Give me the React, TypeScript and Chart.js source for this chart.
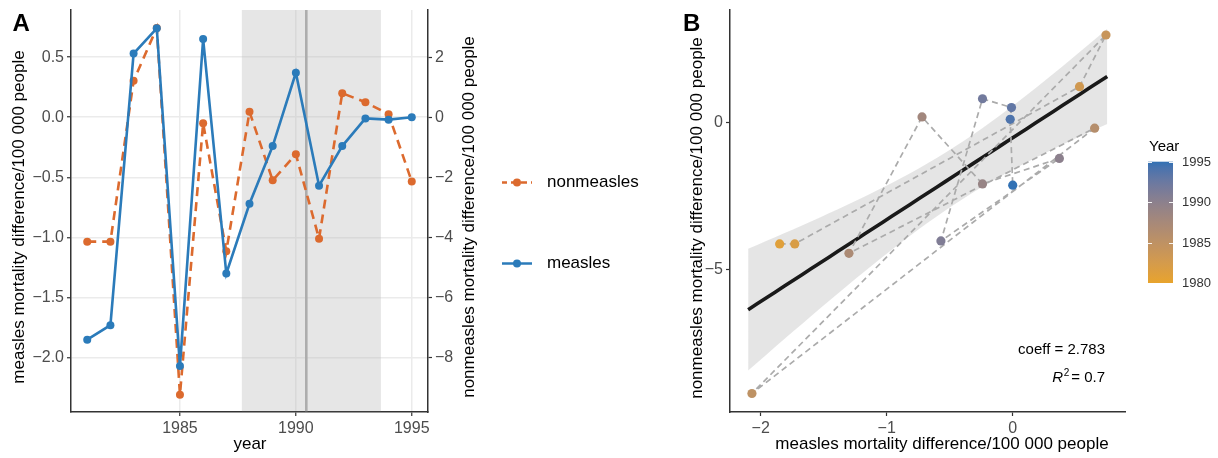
import React, { useEffect, useRef } from "react";
import { Chart, registerables } from "chart.js";

Chart.register(...registerables);

const FONT = "'Liberation Sans', Arial, Helvetica, sans-serif";

// ---------------- data ----------------
const years = [1981, 1982, 1983, 1984, 1985, 1986, 1987, 1988, 1989, 1990, 1991, 1992, 1993, 1994, 1995];
const measles = [-1.85, -1.73, 0.53, 0.74, -2.07, 0.65, -1.3, -0.72, -0.24, 0.37, -0.57, -0.24, -0.01, -0.02, 0.0];
const nonmeasles = [-4.14, -4.14, 1.21, 2.97, -9.23, -0.2, -4.46, 0.18, -2.1, -1.23, -4.04, 0.8, 0.5, 0.1, -2.14];

const yearTicks = [1985, 1990, 1995];
const measlesTicks = [-2, -1.5, -1, -0.5, 0, 0.5];
const nonmeaslesTicks = [-8, -6, -4, -2, 0, 2];
const scatterXTicks = [-2, -1, 0];
const scatterYTicks = [-5, 0];
const colorbarTicks = [1980, 1985, 1990, 1995];
const colorbarLimits = [1980, 1995];

const shadeStart = 1987.67;
const shadeEnd = 1993.67;
const eventYear = 1990.45;
const fitRange = [-2.1, 0.75];
const coeffText = "coeff = 2.783";
const r2Value = "= 0.7";
const seriesNames = ["nonmeasles", "measles"];

// ---------------- styling ----------------
const BLUE = "#2B7BBA";
const ORANGE = "#DC6A2E";
const YEAR_LOW = "#E8A42C";
const YEAR_HIGH = "#3171B4";
const TICK_COLOR = "#4D4D4D";
const AXIS_COLOR = "#333333";
const GRID_COLOR = "#EBEBEB";

const minus = (s: string) => s.replace("-", "\u2212");

// ---- Lab colour interpolation (like ggplot's gradient) ----
function hexToRgb(h: string) {
  const n = parseInt(h.slice(1), 16);
  return [(n >> 16) & 255, (n >> 8) & 255, n & 255];
}
function toLin(c: number) {
  c /= 255;
  return c <= 0.04045 ? c / 12.92 : Math.pow((c + 0.055) / 1.055, 2.4);
}
function fromLin(c: number) {
  const v = c <= 0.0031308 ? 12.92 * c : 1.055 * Math.pow(c, 1 / 2.4) - 0.055;
  return Math.round(Math.max(0, Math.min(1, v)) * 255);
}
function rgbToLab(rgb: number[]) {
  const [r, g, b] = rgb.map(toLin);
  const X = (0.4124 * r + 0.3576 * g + 0.1805 * b) / 0.95047;
  const Y = 0.2126 * r + 0.7152 * g + 0.0722 * b;
  const Z = (0.0193 * r + 0.1192 * g + 0.9505 * b) / 1.08883;
  const f = (t: number) => (t > 0.008856 ? Math.cbrt(t) : 7.787 * t + 16 / 116);
  return [116 * f(Y) - 16, 500 * (f(X) - f(Y)), 200 * (f(Y) - f(Z))];
}
function labToRgb(lab: number[]) {
  const [L, a, b] = lab;
  const fy = (L + 16) / 116;
  const fx = fy + a / 500;
  const fz = fy - b / 200;
  const inv = (t: number) => (t * t * t > 0.008856 ? t * t * t : (t - 16 / 116) / 7.787);
  const X = inv(fx) * 0.95047;
  const Y = inv(fy);
  const Z = inv(fz) * 1.08883;
  const r = 3.2406 * X - 1.5372 * Y - 0.4986 * Z;
  const g = -0.9689 * X + 1.8758 * Y + 0.0415 * Z;
  const bb = 0.0557 * X - 0.204 * Y + 1.057 * Z;
  return [fromLin(r), fromLin(g), fromLin(bb)];
}
const LAB_LOW = rgbToLab(hexToRgb(YEAR_LOW));
const LAB_HIGH = rgbToLab(hexToRgb(YEAR_HIGH));
function yearColor(year: number) {
  const t = (year - colorbarLimits[0]) / (colorbarLimits[1] - colorbarLimits[0]);
  const lab = LAB_LOW.map((v, i) => v + (LAB_HIGH[i] - v) * t);
  const [r, g, b] = labToRgb(lab);
  return `rgb(${r},${g},${b})`;
}

// ---- ordinary least squares fit with 95% confidence band ----
const T_975_DF13 = 2.1604;
function olsFit(xs: number[], ys: number[]) {
  const n = xs.length;
  const mx = xs.reduce((s, v) => s + v, 0) / n;
  const my = ys.reduce((s, v) => s + v, 0) / n;
  let sxx = 0;
  let sxy = 0;
  for (let i = 0; i < n; i++) {
    sxx += (xs[i] - mx) ** 2;
    sxy += (xs[i] - mx) * (ys[i] - my);
  }
  const slope = sxy / sxx;
  const intercept = my - slope * mx;
  let sse = 0;
  for (let i = 0; i < n; i++) sse += (ys[i] - intercept - slope * xs[i]) ** 2;
  const s = Math.sqrt(sse / (n - 2));
  return { slope, intercept, s, mx, sxx, n };
}

function axis(ticks: number[], fmt: (v: number) => string, extra: any) {
  const { fit, ...rest } = extra;
  return {
    type: "linear",
    afterBuildTicks: (sc: any) => {
      sc.ticks = ticks.map((v) => ({ value: v }));
    },
    afterFit: fit,
    ticks: {
      font: { family: FONT, size: 16 },
      color: TICK_COLOR,
      padding: 3,
      autoSkip: false,
      maxRotation: 0,
      callback: (v: any) => fmt(Number(v)),
    },
    grid: { color: GRID_COLOR, lineWidth: 1.5, tickLength: 4, tickColor: AXIS_COLOR, tickWidth: 1.2 },
    border: { display: true, color: AXIS_COLOR, width: 1.5 },
    ...rest,
  };
}

function rotatedText(ctx: CanvasRenderingContext2D, text: string, x: number, y: number) {
  ctx.save();
  ctx.translate(x, y);
  ctx.rotate(-Math.PI / 2);
  ctx.textAlign = "center";
  ctx.textBaseline = "middle";
  ctx.fillText(text, 0, 0);
  ctx.restore();
}

export default function App() {
  const refA = useRef<HTMLCanvasElement>(null);
  const refB = useRef<HTMLCanvasElement>(null);

  useEffect(() => {
    // ---------------- Panel A ----------------
    const pluginA = {
      id: "panelA",
      beforeDatasetsDraw(chart: any) {
        const { ctx, chartArea, scales } = chart;
        const x0 = scales.x.getPixelForValue(shadeStart);
        const x1 = scales.x.getPixelForValue(shadeEnd);
        ctx.save();
        ctx.fillStyle = "rgba(185,185,185,0.36)";
        ctx.fillRect(x0, chartArea.top, x1 - x0, chartArea.bottom - chartArea.top - 0.8);
        const xv = scales.x.getPixelForValue(eventYear);
        ctx.strokeStyle = "#ADADAD";
        ctx.lineWidth = 2.6;
        ctx.beginPath();
        ctx.moveTo(xv, chartArea.top);
        ctx.lineTo(xv, chartArea.bottom - 0.8);
        ctx.stroke();
        ctx.restore();
      },
      afterDraw(chart: any) {
        const { ctx } = chart;
        ctx.save();
        ctx.fillStyle = "#000";
        ctx.font = `bold 24px ${FONT}`;
        ctx.textAlign = "left";
        ctx.textBaseline = "alphabetic";
        ctx.fillText("A", 12.5, 30.7);

        ctx.font = `17px ${FONT}`;
        rotatedText(ctx, "measles mortality difference/100 000 people", 19, 217);
        rotatedText(ctx, "nonmeasles mortality difference/100 000 people", 469, 217);
        ctx.textAlign = "center";
        ctx.textBaseline = "middle";
        ctx.fillText("year", 250, 444);

        // legend
        const items = [
          { name: seriesNames[0], color: ORANGE, dash: [6, 4], y: 182.5 },
          { name: seriesNames[1], color: BLUE, dash: [], y: 263.5 },
        ];
        items.forEach((it) => {
          ctx.strokeStyle = it.color;
          ctx.lineWidth = 2.5;
          ctx.setLineDash(it.dash);
          ctx.lineDashOffset = it.dash.length ? 1 : 0;
          ctx.beginPath();
          ctx.moveTo(502, it.y);
          ctx.lineTo(532, it.y);
          ctx.stroke();
          ctx.setLineDash([]);
          ctx.fillStyle = it.color;
          ctx.beginPath();
          ctx.arc(517, it.y, 4, 0, Math.PI * 2);
          ctx.fill();
          ctx.fillStyle = "#000";
          ctx.font = `17px ${FONT}`;
          ctx.textAlign = "left";
          ctx.textBaseline = "middle";
          ctx.fillText(it.name, 547, it.y);
        });
        ctx.restore();
      },
    };

    const measlesPts = years.map((y, i) => ({ x: y, y: measles[i] }));
    const nonmeaslesPts = years.map((y, i) => ({ x: y, y: nonmeasles[i] }));

    const chartA = new Chart(refA.current as HTMLCanvasElement, {
      type: "line",
      data: {
        datasets: [
          {
            label: "measles",
            data: measlesPts,
            yAxisID: "y",
            borderColor: BLUE,
            backgroundColor: BLUE,
            borderWidth: 2.6,
            pointRadius: 4,
            pointBorderWidth: 0,
            pointBackgroundColor: BLUE,
            tension: 0,
            order: 0,
          },
          {
            label: "nonmeasles",
            data: nonmeaslesPts,
            yAxisID: "y2",
            borderColor: ORANGE,
            backgroundColor: ORANGE,
            borderWidth: 2.6,
            borderDash: [9, 6],
            pointRadius: 4,
            pointBorderWidth: 0,
            pointBackgroundColor: ORANGE,
            tension: 0,
            order: 1,
          },
        ],
      } as any,
      options: {
        responsive: false,
        animation: false,
        devicePixelRatio: 1,
        events: [],
        layout: { padding: { top: 10, left: 0, right: 0, bottom: 0 } },
        plugins: { legend: { display: false }, tooltip: { enabled: false } },
        scales: {
          x: axis(yearTicks, (v) => String(v), {
            min: 1980.3,
            max: 1995.7,
            fit: (s: any) => {
              s.height = 46;
              s.paddingLeft = 0;
              s.paddingRight = 0;
            },
          }),
          y: axis(measlesTicks, (v) => minus(v.toFixed(1)), {
            position: "left",
            min: -2.452,
            max: 0.892,
            fit: (s: any) => {
              s.width = 71;
              s.paddingTop = 0;
              s.paddingBottom = 0;
            },
          }),
          y2: axis(nonmeaslesTicks, (v) => minus(String(v)), {
            position: "right",
            min: -9.808,
            max: 3.568,
            fit: (s: any) => {
              s.width = 212;
              s.paddingTop = 0;
              s.paddingBottom = 0;
            },
            grid: { drawOnChartArea: false, tickLength: 4, tickColor: AXIS_COLOR, tickWidth: 1.2 },
          }),
        } as any,
      },
      plugins: [pluginA],
    });

    // ---------------- Panel B ----------------
    const fit = olsFit(measles, nonmeasles);
    const nBand = 40;
    const fitPts: { x: number; y: number }[] = [];
    const lowerPts: { x: number; y: number }[] = [];
    const upperPts: { x: number; y: number }[] = [];
    for (let i = 0; i <= nBand; i++) {
      const x = fitRange[0] + ((fitRange[1] - fitRange[0]) * i) / nBand;
      const yhat = fit.intercept + fit.slope * x;
      const se = fit.s * Math.sqrt(1 / fit.n + (x - fit.mx) ** 2 / fit.sxx);
      fitPts.push({ x, y: yhat });
      lowerPts.push({ x, y: yhat - T_975_DF13 * se });
      upperPts.push({ x, y: yhat + T_975_DF13 * se });
    }
    const scatterPts = years.map((_, i) => ({ x: measles[i], y: nonmeasles[i] }));
    const pointColors = years.map((y) => yearColor(y));

    const pluginB = {
      id: "panelB",
      afterDraw(chart: any) {
        const { ctx } = chart;
        ctx.save();
        ctx.fillStyle = "#000";
        ctx.font = `bold 24px ${FONT}`;
        ctx.textAlign = "left";
        ctx.textBaseline = "alphabetic";
        ctx.fillText("B", 43, 30.5);

        ctx.font = `17px ${FONT}`;
        rotatedText(ctx, "nonmeasles mortality difference/100 000 people", 57, 218);
        ctx.textAlign = "center";
        ctx.textBaseline = "middle";
        ctx.fillText("measles mortality difference/100 000 people", 302, 444);

        // annotations
        ctx.font = `15px ${FONT}`;
        ctx.textAlign = "right";
        ctx.fillText(coeffText, 465, 350);
        ctx.fillText(r2Value, 465, 378);
        const w = ctx.measureText(r2Value).width;
        ctx.font = `10px ${FONT}`;
        ctx.fillText("2", 465 - w - 2, 373);
        const w2 = ctx.measureText("2").width;
        ctx.font = `italic 15px ${FONT}`;
        ctx.fillText("R", 465 - w - 2 - w2 - 0.5, 378);

        // colour bar
        const bx = 508;
        const bw = 25;
        const yTop = 161.7;
        const yBot = 283;
        const yOf = (yr: number) =>
          yBot - ((yr - colorbarLimits[0]) / (colorbarLimits[1] - colorbarLimits[0])) * (yBot - yTop);
        const grad = ctx.createLinearGradient(0, yBot, 0, yTop);
        for (let i = 0; i <= 20; i++) {
          const yr = colorbarLimits[0] + ((colorbarLimits[1] - colorbarLimits[0]) * i) / 20;
          grad.addColorStop(i / 20, yearColor(yr));
        }
        ctx.fillStyle = grad;
        ctx.fillRect(bx, yTop, bw, yBot - yTop);
        ctx.strokeStyle = "rgba(255,255,255,0.9)";
        ctx.lineWidth = 1;
        colorbarTicks.forEach((yr) => {
          const y = Math.round(yOf(yr)) + 0.5;
          ctx.beginPath();
          ctx.moveTo(bx, y);
          ctx.lineTo(bx + 4, y);
          ctx.moveTo(bx + bw - 4, y);
          ctx.lineTo(bx + bw, y);
          ctx.stroke();
        });
        ctx.fillStyle = "#000";
        ctx.font = `15px ${FONT}`;
        ctx.textAlign = "left";
        ctx.textBaseline = "middle";
        ctx.fillText("Year", 509, 147);
        ctx.fillStyle = "#333";
        ctx.font = `13px ${FONT}`;
        colorbarTicks.forEach((yr) => {
          ctx.fillText(String(yr), 542, yOf(yr) + 0.5);
        });
        ctx.restore();
      },
    };

    const chartB = new Chart(refB.current as HTMLCanvasElement, {
      type: "line",
      data: {
        datasets: [
          {
            type: "scatter",
            label: "years",
            data: scatterPts,
            pointRadius: 4.6,
            pointBorderWidth: 0,
            pointBackgroundColor: pointColors,
            backgroundColor: pointColors,
            order: 0,
          },
          {
            type: "line",
            label: "path",
            data: scatterPts,
            borderColor: "#ABABAB",
            borderWidth: 1.7,
            borderDash: [6, 4],
            pointRadius: 0,
            fill: false,
            tension: 0,
            order: 1,
          },
          {
            type: "line",
            label: "fit",
            data: fitPts,
            borderColor: "#1A1A1A",
            borderWidth: 3.6,
            pointRadius: 0,
            fill: false,
            tension: 0,
            order: 2,
          },
          {
            type: "line",
            label: "lower",
            data: lowerPts,
            borderColor: "rgba(0,0,0,0)",
            borderWidth: 1,
            pointRadius: 0,
            fill: false,
            tension: 0,
            order: 4,
          },
          {
            type: "line",
            label: "upper",
            data: upperPts,
            borderColor: "rgba(0,0,0,0)",
            borderWidth: 1,
            pointRadius: 0,
            fill: { target: 3 },
            backgroundColor: "rgba(170,170,170,0.3)",
            tension: 0,
            order: 3,
          },
        ],
      } as any,
      options: {
        responsive: false,
        animation: false,
        devicePixelRatio: 1,
        events: [],
        layout: { padding: { top: 10, left: 0, right: 93, bottom: 0 } },
        plugins: { legend: { display: false }, tooltip: { enabled: false } },
        scales: {
          x: axis(scatterXTicks, (v) => minus(String(v)), {
            min: -2.244,
            max: 0.891,
            fit: (s: any) => {
              s.height = 46;
              s.paddingLeft = 0;
              s.paddingRight = 0;
            },
            grid: { drawOnChartArea: false, tickLength: 4, tickColor: AXIS_COLOR, tickWidth: 1.2 },
          }),
          y: axis(scatterYTicks, (v) => minus(String(v)), {
            position: "left",
            min: -9.86,
            max: 3.82,
            fit: (s: any) => {
              s.width = 90;
              s.paddingTop = 0;
              s.paddingBottom = 0;
            },
            grid: { drawOnChartArea: false, tickLength: 4, tickColor: AXIS_COLOR, tickWidth: 1.2 },
          }),
        } as any,
      },
      plugins: [pluginB],
    });

    return () => {
      chartA.destroy();
      chartB.destroy();
    };
  }, []);

  return (
    <div style={{ position: "fixed", left: 0, top: 0, width: 1218, height: 458, background: "#fff", overflow: "hidden" }}>
      <canvas ref={refA} width={640} height={458} style={{ position: "absolute", left: 0, top: 0, width: 640, height: 458 }} />
      <canvas ref={refB} width={578} height={458} style={{ position: "absolute", left: 640, top: 0, width: 578, height: 458 }} />
    </div>
  );
}
